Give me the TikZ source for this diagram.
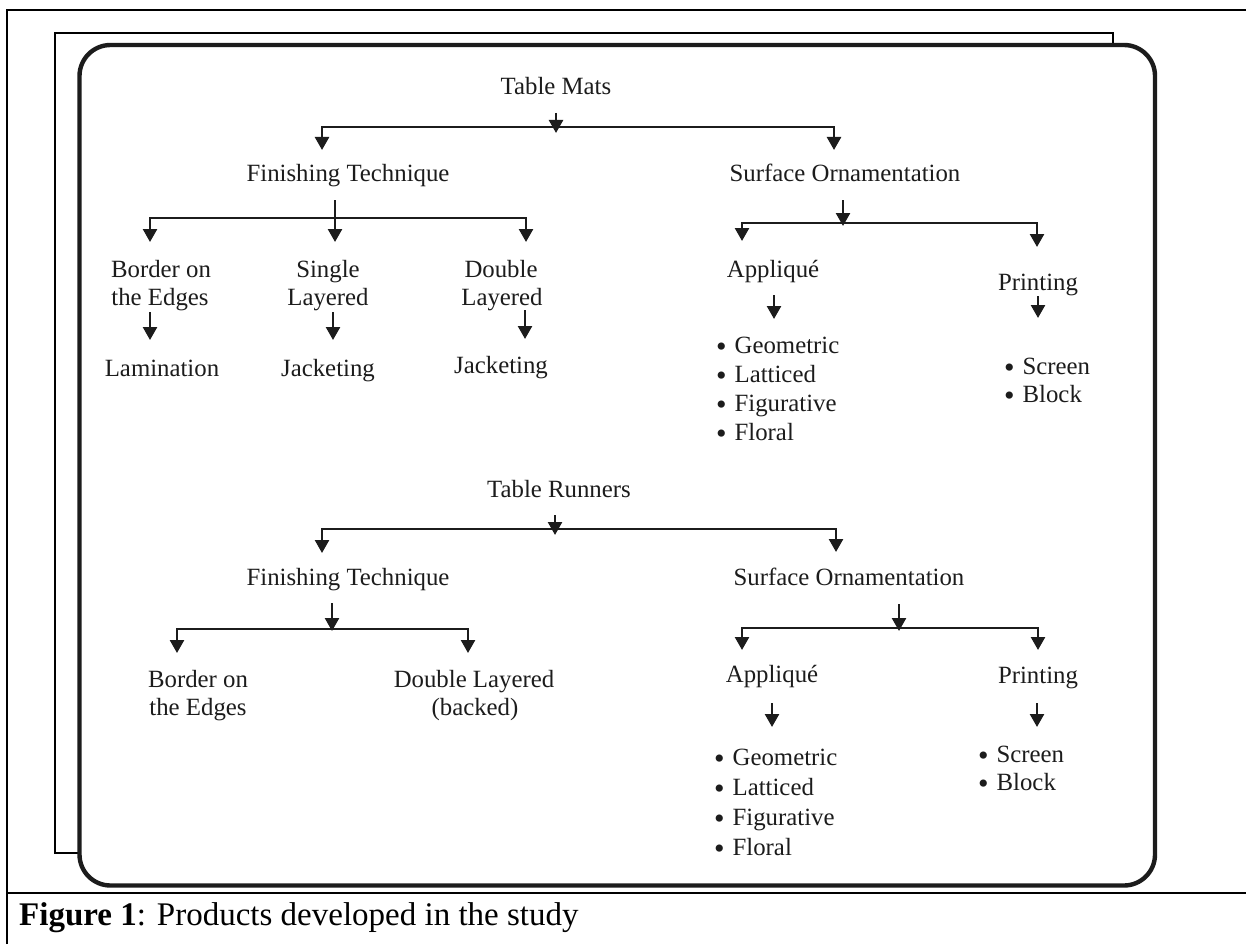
\documentclass[tikz,border=0pt]{standalone}
\usepackage{fontspec}
\setmainfont{Liberation Serif}
\usetikzlibrary{arrows.meta}
\definecolor{ink}{HTML}{1C1C1C}
\newcommand{\bul}{\raisebox{-3.5pt}{\fontsize{30}{30}\selectfont •}\hspace{0.32em}}
\begin{document}
\begin{tikzpicture}[x=1pt,y=-1pt,
  lbl/.style={anchor=base,inner sep=0pt,font=\fontsize{24.8}{29}\selectfont,text=ink},
  lblw/.style={lbl,anchor=base west},
  conn/.style={line width=2.5pt,draw=ink},
  arr/.style={conn,-{Triangle[width=14pt,length=13pt]}},
  tableline/.style={line width=2.6pt,draw=black},
  thinframe/.style={line width=1.9pt,draw=black},
  bigbox/.style={line width=4.4pt,draw=ink,rounded corners=31pt}]
\useasboundingbox (0,0) rectangle (1246,944);
\fill[white] (0,0) rectangle (1246,944);
% table cell
\coordinate (c1) at (7,944); \coordinate (c2) at (7,10); \coordinate (c3) at (1246,10);
\coordinate (c4) at (7,893); \coordinate (c5) at (1246,893);
\draw[tableline] (c1) -- (c2) -- (c3);
\draw[tableline] (c4) -- (c5);
% inner frame
\coordinate (f1) at (78,853); \coordinate (f2) at (55,853); \coordinate (f3) at (55,33);
\coordinate (f4) at (1113,33); \coordinate (f5) at (1113,45);
\draw[thinframe] (f1) -- (f2) -- (f3) -- (f4) -- (f5);
% rounded box
\coordinate (b1) at (79.5,45); \coordinate (b2) at (1155,885.5);
\draw[bigbox] (b1) rectangle (b2);

% ===== Table Mats =====
\node[lbl] (tm) at (556,95) {Table Mats};
\coordinate (tmA) at (556,113); \coordinate (tmT) at (556,133); \coordinate (tmJ) at (556,127);
\coordinate (ftA) at (322,150); \coordinate (soA) at (834,150);
\draw[arr] (tmA) -- (tmT);
\draw[arr] (tmJ) -| (ftA);
\draw[arr] (tmJ) -| (soA);

\node[lbl] (ft) at (348,182) {Finishing Technique};
\node[lbl] (so) at (845,182) {Surface Ornamentation};

\coordinate (ftS) at (335,200); \coordinate (ftJ) at (335,218);
\coordinate (beA) at (150,242); \coordinate (slA) at (335,242); \coordinate (dlA) at (526,242);
\draw[arr] (ftS) -- (slA);
\draw[arr] (ftJ) -| (beA);
\draw[arr] (ftJ) -| (dlA);

\node[lbl] (be1) at (161,277) {Border on};
\node[lbl] (be2) at (160,305) {the Edges};
\node[lbl] (sl1) at (328,277) {Single};
\node[lbl] (sl2) at (328,305) {Layered};
\node[lbl] (dl1) at (501,277) {Double};
\node[lbl] (dl2) at (502,305) {Layered};

\coordinate (beS) at (150,312); \coordinate (beE) at (150,340);
\coordinate (slS) at (333,312); \coordinate (slE) at (333,340);
\coordinate (dlS) at (525,310); \coordinate (dlE) at (525,339);
\draw[arr] (beS) -- (beE);
\draw[arr] (slS) -- (slE);
\draw[arr] (dlS) -- (dlE);

\node[lbl] (lam) at (162,376) {Lamination};
\node[lbl] (jk1) at (328,376) {Jacketing};
\node[lbl] (jk2) at (501,373) {Jacketing};

\coordinate (soS) at (843,200); \coordinate (soT) at (843,226); \coordinate (soJ) at (843,223);
\coordinate (apA) at (742,241); \coordinate (prA) at (1037,247);
\draw[arr] (soS) -- (soT);
\draw[arr] (soJ) -| (apA);
\draw[arr] (soJ) -| (prA);

\node[lbl] (ap) at (773,277) {Appliqué};
\node[lbl] (pr) at (1038,290) {Printing};
\coordinate (apS) at (774,295); \coordinate (apE) at (774,319);
\coordinate (prS) at (1038,296); \coordinate (prE) at (1038,318);
\draw[arr] (apS) -- (apE);
\draw[arr] (prS) -- (prE);

\node[lblw] (g1) at (716,353) {\bul Geometric};
\node[lblw] (l1) at (716,382) {\bul Latticed};
\node[lblw] (fg1) at (716,411) {\bul Figurative};
\node[lblw] (fl1) at (716,440) {\bul Floral};
\node[lblw] (sc1) at (1004,374) {\bul Screen};
\node[lblw] (bl1) at (1004,402) {\bul Block};

% ===== Table Runners =====
\node[lbl] (tr) at (559,497) {Table Runners};
\coordinate (trA) at (555,515); \coordinate (trT) at (555,535); \coordinate (trJ) at (555,529);
\coordinate (ft2A) at (322,553); \coordinate (so2A) at (836,552);
\draw[arr] (trA) -- (trT);
\draw[arr] (trJ) -| (ft2A);
\draw[arr] (trJ) -| (so2A);

\node[lbl] (ft2) at (348,585) {Finishing Technique};
\node[lbl] (so2) at (849,585) {Surface Ornamentation};

\coordinate (ft2S) at (332,603); \coordinate (ft2T) at (332,631); \coordinate (ft2J) at (332,629);
\coordinate (be2A) at (177,653); \coordinate (db2A) at (468,653);
\draw[arr] (ft2S) -- (ft2T);
\draw[arr] (ft2J) -| (be2A);
\draw[arr] (ft2J) -| (db2A);

\node[lbl] (be3) at (198,687) {Border on};
\node[lbl] (be4) at (198,715) {the Edges};
\node[lbl] (db3) at (474,687) {Double Layered};
\node[lbl] (db4) at (475,715) {(backed)};

\coordinate (so2S) at (899,604); \coordinate (so2T) at (899,631); \coordinate (so2J) at (899,628);
\coordinate (ap2A) at (742,650); \coordinate (pr2A) at (1038,650);
\draw[arr] (so2S) -- (so2T);
\draw[arr] (so2J) -| (ap2A);
\draw[arr] (so2J) -| (pr2A);

\node[lbl] (ap2) at (772,682) {Appliqué};
\node[lbl] (pr2) at (1038,683) {Printing};
\coordinate (ap2S) at (772,703); \coordinate (ap2E) at (772,727);
\coordinate (pr2S) at (1037,703); \coordinate (pr2E) at (1037,727);
\draw[arr] (ap2S) -- (ap2E);
\draw[arr] (pr2S) -- (pr2E);

\node[lblw] (g2) at (714,765) {\bul Geometric};
\node[lblw] (l2) at (714,795) {\bul Latticed};
\node[lblw] (fg2) at (714,825) {\bul Figurative};
\node[lblw] (fl2) at (714,855) {\bul Floral};
\node[lblw] (sc2) at (978,762) {\bul Screen};
\node[lblw] (bl2) at (978,790) {\bul Block};

% caption
\node[anchor=base west,inner sep=0pt,font=\fontsize{33}{40}\selectfont] (cap) at (19,925) {\textbf{Figure 1}: Products developed in the study};
\end{tikzpicture}
\end{document}
